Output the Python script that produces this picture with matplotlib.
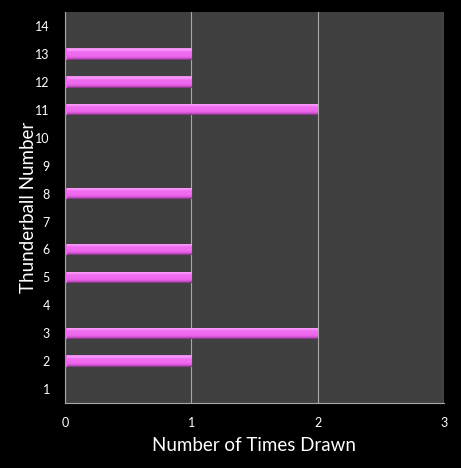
import numpy as np
import matplotlib.pyplot as plt
from matplotlib.colors import LinearSegmentedColormap

# --- дані ---
numbers = list(range(1, 15))
times_drawn = [0, 1, 2, 0, 1, 1, 0, 1, 0, 0, 2, 1, 1, 0]

plt.rcParams['font.family'] = ['Lato', 'DejaVu Sans']

fig = plt.figure(figsize=(4.61, 4.68), dpi=100, facecolor='black')
ax = fig.add_axes([0.141, 0.139, 0.822, 0.835])
ax.set_facecolor('#404040')

# градієнт для "об'ємних" смуг (знизу вгору)
cmap = LinearSegmentedColormap.from_list(
    'pinkbar', [(0.0, '#6e2c6e'), (0.12, '#c850c8'), (0.3, '#ec66ec'),
                (0.7, '#f06ef0'), (0.85, '#ff9eff'), (1.0, '#e888e8')])
grad = np.linspace(0, 1, 64).reshape(-1, 1)

bar_h = 0.4
bars = ax.barh(numbers, times_drawn, height=bar_h, color='#ee66ee',
               edgecolor='none', zorder=3)
for rect in bars:
    w = rect.get_width()
    if w <= 0:
        continue
    x0, y0 = rect.get_x(), rect.get_y()
    im = ax.imshow(grad, cmap=cmap, aspect='auto', origin='lower',
                   extent=(x0 + 0.015, x0 + w, y0, y0 + rect.get_height()),
                   zorder=4, interpolation='bilinear')
    im.set_clip_path(rect)

ax.set_xlim(0, 3)
ax.set_ylim(0.5, 14.5)
ax.set_xticks([0, 1, 2, 3])
ax.set_yticks(numbers)
ax.set_yticklabels([str(n) for n in numbers])

ax.grid(axis='x', color='#a8a8a8', linewidth=0.8, zorder=1)
ax.set_axisbelow(True)

for side in ['top', 'right']:
    ax.spines[side].set_visible(False)
for side in ['left', 'bottom']:
    ax.spines[side].set_color('#a8a8a8')
    ax.spines[side].set_linewidth(0.8)

ax.tick_params(colors='white', labelsize=9, length=0, pad=10)
ax.tick_params(axis='y', pad=11)
ax.set_xlabel('Number of Times Drawn', color='white', fontsize=13.5, labelpad=6)
ax.set_ylabel('Thunderball Number', color='white', fontsize=13.5)
ax.yaxis.set_label_coords(-0.075, 0.5)

plt.savefig('out.png', dpi=100, facecolor='black')
